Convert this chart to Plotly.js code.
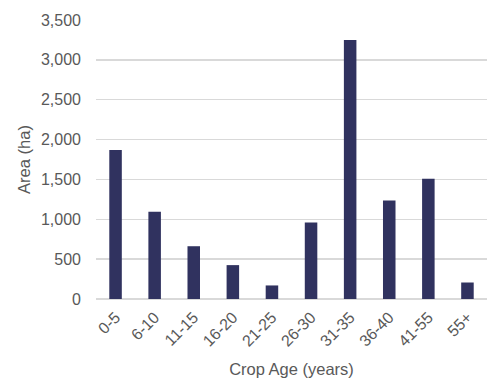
<!DOCTYPE html>
<html>
<head>
<meta charset="utf-8">
<script src="https://cdn.plot.ly/plotly-3.0.1.min.js"></script>
<style>
  html, body { margin: 0; padding: 0; background: #ffffff; }
  #chart { width: 487px; height: 378px; }
</style>
</head>
<body>
<div id="chart"></div>
<script>
// Planted area by crop age class
const ageClasses = ['0-5', '6-10', '11-15', '16-20', '21-25', '26-30', '31-35', '36-40', '41-55', '55+'];
const areaHa = [1870, 1095, 662, 425, 170, 960, 3250, 1235, 1510, 207];
const yTickValues = [0, 500, 1000, 1500, 2000, 2500, 3000, 3500];

const fontFamily = 'Liberation Sans, Arial, sans-serif';
const textGrey = '#595959';

const trace = {
  type: 'bar',
  x: ageClasses,
  y: areaHa,
  marker: { color: '#30325f', line: { width: 0 } },
  hoverinfo: 'x+y'
};

const layout = {
  width: 487,
  height: 378,
  margin: { l: 96, r: 0, t: 20, b: 79, pad: 0 },
  paper_bgcolor: '#ffffff',
  plot_bgcolor: '#ffffff',
  bargap: 0.68,
  showlegend: false,
  font: { family: fontFamily, size: 16, color: textGrey },
  xaxis: {
    type: 'category',
    tickangle: -45,
    showgrid: false,
    showline: false,
    zeroline: false,
    ticks: '',
    ticklabelstandoff: 5,
    tickfont: { family: fontFamily, size: 16, color: textGrey },
    title: { text: 'Crop Age (years)', font: { family: fontFamily, size: 16.5, color: textGrey }, standoff: 15 },
    automargin: false
  },
  yaxis: {
    range: [0, 3500],
    tickvals: yTickValues,
    tickformat: ',d',
    showgrid: true,
    gridcolor: '#d9d9d9',
    gridwidth: 1.3,
    zeroline: true,
    zerolinecolor: '#d9d9d9',
    zerolinewidth: 1.3,
    showline: false,
    ticks: '',
    ticklabelstandoff: 14,
    tickfont: { family: fontFamily, size: 16, color: textGrey },
    title: { text: 'Area (ha)', font: { family: fontFamily, size: 16.5, color: textGrey }, standoff: 6 },
    automargin: false
  }
};

Plotly.newPlot('chart', [trace], layout, { displayModeBar: false, staticPlot: true });
</script>
</body>
</html>
